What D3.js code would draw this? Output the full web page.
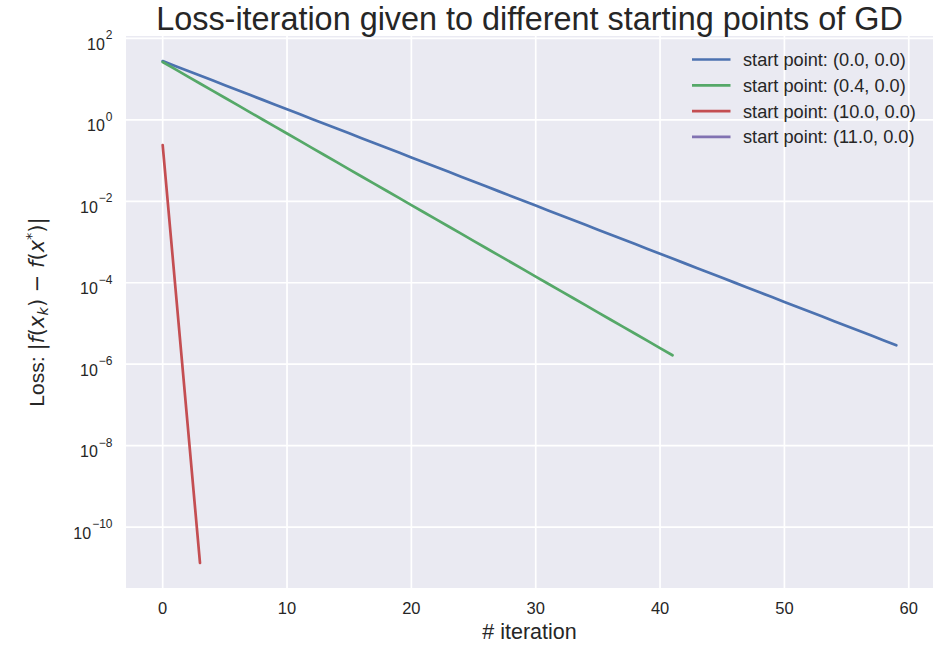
<!DOCTYPE html>
<html>
<head>
<meta charset="utf-8">
<script src="https://cdn.jsdelivr.net/npm/d3@7"></script>
<style>
  body { margin: 0; background: #fff; }
  svg text { font-family: "Liberation Sans", Arial, sans-serif; fill: #262626; }
</style>
</head>
<body>
<div id="chart"></div>
<script>
// Loss values (log scale), one per iteration
const lossStart00 = [
  27.73, 21.12, 16.09, 12.25, 9.333, 7.107, 5.413, 4.123, 3.140, 2.391,
  1.821, 1.387, 1.056, 0.8044, 0.6128, 0.4667, 0.3555, 0.2707, 0.2062, 0.1571,
  0.1196, 0.09111, 0.06939, 0.05284, 0.04025, 0.03065, 0.02334, 0.01778, 0.01354, 0.01031,
  0.007855, 0.005982, 0.004557, 0.003470, 0.002643, 0.002013, 0.001533, 0.001168, 8.892e-4, 6.773e-4,
  5.158e-4, 3.928e-4, 2.992e-4, 2.279e-4, 1.736e-4, 1.322e-4, 1.007e-4, 7.669e-5, 5.841e-5, 4.449e-5,
  3.388e-5, 2.580e-5, 1.965e-5, 1.497e-5, 1.140e-5, 8.683e-6, 6.613e-6, 5.037e-6, 3.836e-6, 2.922e-6
];
const lossStart04 = [
  26.30, 17.55, 11.71, 7.820, 5.218, 3.483, 2.324, 1.551, 1.035, 0.6909,
  0.4611, 0.3077, 0.2054, 0.1371, 0.09152, 0.06106, 0.04075, 0.02720, 0.01816, 0.01212,
  0.008088, 0.005398, 0.003602, 0.002404, 0.001604, 0.001071, 7.144e-4, 4.768e-4, 3.182e-4, 2.124e-4,
  1.417e-4, 9.465e-5, 6.316e-5, 4.215e-5, 2.813e-5, 1.877e-5, 1.253e-5, 8.364e-6, 5.581e-6, 3.725e-6,
  2.486e-6, 1.660e-6
];
const lossStart10 = [0.24, 9.1e-5, 3.47e-8, 1.32e-11];
const lossStart11 = []; // nothing visible for this run

const seriesLabels = [
  "start point: (0.0, 0.0)",
  "start point: (0.4, 0.0)",
  "start point: (10.0, 0.0)",
  "start point: (11.0, 0.0)"
];
const seriesColors = ["#4C72B0", "#55A868", "#C44E52", "#8172B2"];
const xTicks = [0, 10, 20, 30, 40, 50, 60];
const yTickExponents = [2, 0, -2, -4, -6, -8, -10];

const width = 951;
const height = 656;
const marginTop = 36;
const marginRight = 18;
const marginBottom = 68;
const marginLeft = 126;

const series = [lossStart00, lossStart04, lossStart10, lossStart11].map((values, i) => ({
  label: seriesLabels[i],
  color: seriesColors[i],
  points: values.map((v, k) => [k, v])
}));

const allPoints = series.flatMap(s => s.points);

// matplotlib-style 5% margins (log space for y)
const [xMin, xMax] = d3.extent(allPoints, d => d[0]);
const xPad = (xMax - xMin) * 0.05;
const [lyMin, lyMax] = d3.extent(allPoints, d => Math.log10(d[1]));
const lyPad = (lyMax - lyMin) * 0.05;

const x = d3.scaleLinear()
  .domain([xMin - xPad, xMax + xPad])
  .range([marginLeft, width - marginRight]);

const y = d3.scaleLog()
  .domain([Math.pow(10, lyMin - lyPad), Math.pow(10, lyMax + lyPad)])
  .range([height - marginBottom, marginTop]);

const svg = d3.select("#chart").append("svg")
  .attr("width", width)
  .attr("height", height)
  .attr("viewBox", [0, 0, width, height]);

// plot background
svg.append("rect")
  .attr("x", marginLeft)
  .attr("y", marginTop)
  .attr("width", width - marginRight - marginLeft)
  .attr("height", height - marginBottom - marginTop)
  .attr("fill", "#EAEAF2");

// grid
const grid = svg.append("g").attr("stroke", "#fff").attr("stroke-width", 1.7);
grid.selectAll(".gx").data(xTicks).join("line")
  .attr("x1", d => x(d)).attr("x2", d => x(d))
  .attr("y1", marginTop).attr("y2", height - marginBottom);
grid.selectAll(".gy").data(yTickExponents).join("line")
  .attr("x1", marginLeft).attr("x2", width - marginRight)
  .attr("y1", d => y(Math.pow(10, d))).attr("y2", d => y(Math.pow(10, d)));

// x tick labels
svg.append("g")
  .style("font-size", "16.5px")
  .attr("text-anchor", "middle")
  .selectAll("text")
  .data(xTicks)
  .join("text")
  .attr("x", d => x(d))
  .attr("y", height - marginBottom + 26)
  .text(d => d);

// y tick labels, 10^n
const yLabels = svg.append("g")
  .style("font-size", "16px")
  .attr("text-anchor", "end")
  .selectAll("text")
  .data(yTickExponents)
  .join("text")
  .attr("x", 112.5)
  .attr("y", d => y(Math.pow(10, d)) + 11.5);
yLabels.append("tspan").text("10");
yLabels.append("tspan")
  .attr("dy", -10.5)
  .attr("dx", 1)
  .style("font-size", "12px")
  .text(d => d < 0 ? "\u2212" + (-d) : String(d));

// lines
const line = d3.line()
  .x(d => x(d[0]))
  .y(d => y(d[1]));

svg.append("g")
  .attr("fill", "none")
  .attr("stroke-width", 2.7)
  .attr("stroke-linecap", "round")
  .attr("stroke-linejoin", "round")
  .selectAll("path")
  .data(series.filter(s => s.points.length > 1))
  .join("path")
  .attr("stroke", d => d.color)
  .attr("d", d => line(d.points));

// legend
const legend = svg.append("g")
  .style("font-size", "18.2px")
  .selectAll("g")
  .data(series)
  .join("g")
  .attr("transform", (d, i) => `translate(692,${59.5 + i * 25.8})`);
legend.append("line")
  .attr("x1", 0).attr("x2", 38.5)
  .attr("stroke", d => d.color)
  .attr("stroke-width", 2.7);
legend.append("text")
  .attr("x", 51)
  .attr("dy", "0.36em")
  .text(d => d.label);

// title
svg.append("text")
  .attr("x", (marginLeft + width - marginRight) / 2)
  .attr("y", 29.5)
  .attr("text-anchor", "middle")
  .style("font-size", "32.4px")
  .text("Loss-iteration given to different starting points of GD");

// x label
svg.append("text")
  .attr("x", (marginLeft + width - marginRight) / 2)
  .attr("y", 639)
  .attr("text-anchor", "middle")
  .style("font-size", "21.5px")
  .text("# iteration");

// y label (mathtext-like)
const yl = svg.append("text")
  .attr("transform", `translate(44,${(marginTop + height - marginBottom) / 2}) rotate(-90)`)
  .attr("text-anchor", "middle")
  .style("font-size", "21px");
const mathFont = "'DejaVu Sans', sans-serif";
yl.append("tspan").text("Loss: ");
yl.append("tspan").style("font-family", mathFont).text("|");
yl.append("tspan").style("font-family", mathFont).style("font-style", "italic").text("f");
yl.append("tspan").style("font-family", mathFont).text("(");
yl.append("tspan").style("font-family", mathFont).style("font-style", "italic").text("x");
yl.append("tspan").style("font-family", mathFont).style("font-style", "italic").style("font-size", "14.5px").attr("dy", 4).text("k");
yl.append("tspan").style("font-family", mathFont).attr("dy", -4).text(") \u2212 ");
yl.append("tspan").style("font-family", mathFont).style("font-style", "italic").text("f");
yl.append("tspan").style("font-family", mathFont).text("(");
yl.append("tspan").style("font-family", mathFont).style("font-style", "italic").text("x");
yl.append("tspan").style("font-family", mathFont).style("font-size", "14.5px").attr("dy", -8).text("*");
yl.append("tspan").style("font-family", mathFont).attr("dy", 8).text(")|");
</script>
</body>
</html>
